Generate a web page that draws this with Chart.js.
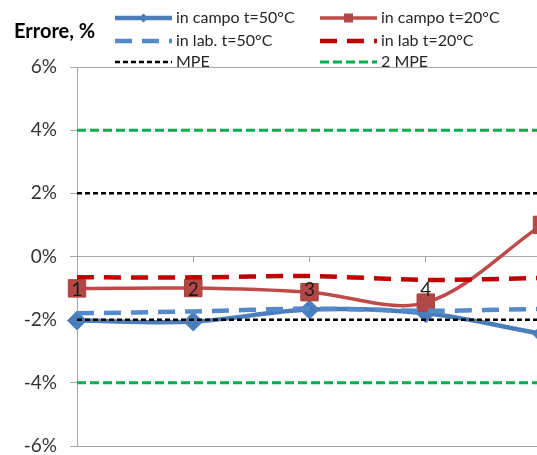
<!DOCTYPE html>
<html><head><meta charset="utf-8">
<script src="https://cdn.jsdelivr.net/npm/chart.js@4/dist/chart.umd.min.js"></script>
<style>
html,body{margin:0;padding:0;overflow:hidden;background:#fff;width:537px;height:455px}
#wrap{position:absolute;left:0;top:0;width:560px;height:455px}
</style>
</head><body>
<div id="wrap"><canvas id="c" width="560" height="455"></canvas></div>
<script>
// ---- data ----
const categories = ['1', '2', '3', '4', '5'];
const campo50 = [-2.03, -2.06, -1.68, -1.80, -2.45];
const campo20 = [-1.01, -1.00, -1.13, -1.46, 1.00];
const lab50   = [-1.80, -1.74, -1.65, -1.72, -1.66];
const lab20   = [-0.66, -0.66, -0.62, -0.74, -0.68];
const mpeUpper  = [2, 2, 2, 2, 2];
const mpeLower  = [-2, -2, -2, -2, -2];
const mpe2Upper = [4, 4, 4, 4, 4];
const mpe2Lower = [-4, -4, -4, -4, -4];
const yTicks = [-6, -4, -2, 0, 2, 4, 6];
const yTitle = 'Errore, %';

const FONT = 'Lato, "Open Sans", sans-serif';
const GRAY = '#a6a6a6';

const datasets = [
  {label:'in campo t=50°C', data:campo50, borderColor:'#4a7ebb', backgroundColor:'#4a7ebb',
   borderWidth:4.5, pointStyle:'rectRot', pointRadius:9.5, pointBorderWidth:1, pointBorderColor:'#4a7ebb',
   pointBackgroundColor:'#4a7ebb', tension:0.33, order:6, clip:false},
  {label:'in campo t=20°C', data:campo20, borderColor:'#be4b48', backgroundColor:'#b24843',
   borderWidth:3.5, pointStyle:'rect', pointRadius:12.3, pointBorderWidth:1, pointBorderColor:'#a8403c',
   pointBackgroundColor:'#b24843', tension:0.33, order:5, clip:false},
  {label:'in lab. t=50°C', data:lab50, borderColor:'#5489cc', borderWidth:4.5, borderDash:[17,10],
   pointRadius:0, tension:0.33, order:4, clip:false},
  {label:'in lab t=20°C', data:lab20, borderColor:'#c00000', borderWidth:4.5, borderDash:[17,10],
   pointRadius:0, tension:0.33, order:3, clip:false},
  {label:'MPE', data:mpeUpper, borderColor:'#000000', borderWidth:2.5, borderDash:[5,3], pointRadius:0, order:2, clip:false},
  {label:'MPE', data:mpeLower, borderColor:'#000000', borderWidth:2.5, borderDash:[5,3], pointRadius:0, order:2, clip:false},
  {label:'2 MPE', data:mpe2Upper, borderColor:'#00b050', borderWidth:3, borderDash:[9,4], pointRadius:0, order:1, clip:false},
  {label:'2 MPE', data:mpe2Lower, borderColor:'#00b050', borderWidth:3, borderDash:[9,4], pointRadius:0, order:1, clip:false}
];

// legend grid: dataset index -> [column, row]
const legendPlan = [[0,0,0],[1,1,0],[2,0,1],[3,1,1],[4,0,2],[6,1,2]];

const customLegend = {
  id:'customLegend',
  afterDraw(chart){
    const ctx = chart.ctx;
    ctx.save();
    ctx.fillStyle = '#000';
    ctx.font = 'bold 20px ' + FONT;
    ctx.textBaseline = 'middle';
    ctx.textAlign = 'left';
    ctx.fillText(yTitle, 14, 32);
    const colX = [115, 320], rowY = [18, 41, 62], sampleW = 57;
    legendPlan.forEach(([di, col, row]) => {
      const ds = chart.data.datasets[di];
      const x0 = colX[col], y = rowY[row];
      ctx.save();
      ctx.strokeStyle = ds.borderColor;
      ctx.lineWidth = ds.borderWidth;
      ctx.setLineDash(ds.borderDash || []);
      ctx.beginPath(); ctx.moveTo(x0, y); ctx.lineTo(x0 + sampleW, y); ctx.stroke();
      ctx.setLineDash([]);
      const cx = x0 + sampleW/2;
      if (ds.pointStyle === 'rectRot') {
        ctx.fillStyle = ds.pointBackgroundColor;
        ctx.beginPath(); ctx.moveTo(cx-4.5,y); ctx.lineTo(cx,y-4.5); ctx.lineTo(cx+4.5,y); ctx.lineTo(cx,y+4.5); ctx.closePath(); ctx.fill();
      } else if (ds.pointStyle === 'rect') {
        ctx.fillStyle = ds.pointBackgroundColor;
        ctx.fillRect(cx-4.5, y-4.5, 9, 9);
      }
      ctx.restore();
      ctx.fillStyle = '#262626';
      ctx.font = '16px ' + FONT;
      ctx.textBaseline = 'middle';
      ctx.fillText(ds.label, x0 + sampleW + 4, y);
    });
    ctx.restore();
  }
};

new Chart(document.getElementById('c'), {
  type:'line',
  data:{labels:categories, datasets},
  options:{
    responsive:false, animation:false,
    layout:{autoPadding:false, padding:{top:67, right:18, bottom:9, left:0}},
    plugins:{legend:{display:false}, tooltip:{enabled:false}},
    scales:{
      x:{type:'category', position:{y:0}, offset:false,
         afterFit:s => { s.height = 0; s.paddingTop = 0; s.paddingBottom = 0; s.paddingLeft = 0; s.paddingRight = 0; },
         grid:{drawOnChartArea:false, tickLength:5, tickColor:GRAY},
         border:{color:GRAY, width:1},
         ticks:{z:1, font:{family:FONT, size:19}, color:'#1a1a1a', padding:17, maxRotation:0, autoSkip:false}},
      y:{min:-6, max:6,
         afterBuildTicks:s => { s.ticks = yTicks.map(v => ({value:v})); },
         afterFit:s => { s.width = 77; s.paddingTop = 0; s.paddingBottom = 0; },
         ticks:{callback:v => v + '%', font:{family:FONT, size:19}, color:'#333', padding:13},
         grid:{color:c => (c.tick && Math.abs(c.tick.value) === 6) ? GRAY : 'rgba(0,0,0,0)',
               tickColor:GRAY, tickLength:7, lineWidth:1},
         border:{color:GRAY, width:1}}
    }
  },
  plugins:[customLegend]
});
</script>
</body></html>
